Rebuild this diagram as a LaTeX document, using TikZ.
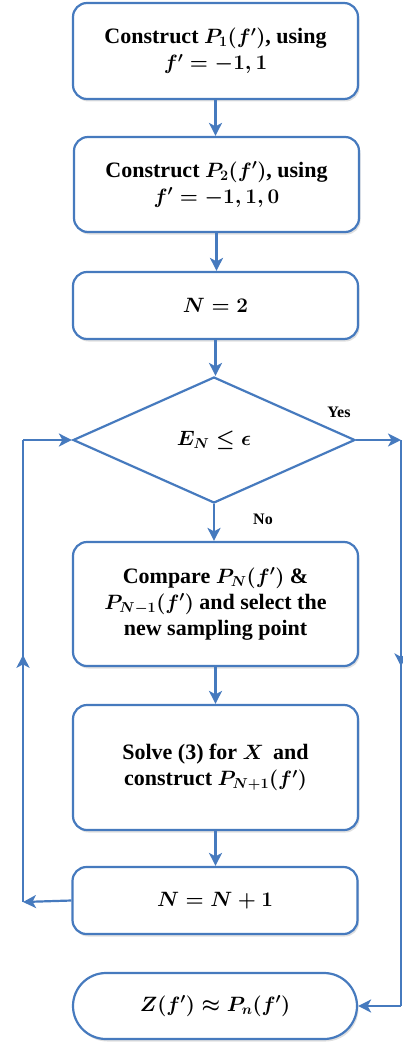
\documentclass[tikz,border=0pt]{standalone}
\usepackage{fontspec}
\setmainfont{Liberation Serif}
\usetikzlibrary{shapes.geometric,shapes.misc,arrows.meta,decorations.markings,shadows}
\definecolor{fblue}{RGB}{70,122,190}
\begin{document}
\begin{tikzpicture}[x=1pt,y=1pt,
  every node/.style={font=\fontsize{22}{26}\selectfont\bfseries\boldmath, text=black},
  box/.style={draw=fblue, line width=2.2pt, fill=white, rounded corners=14pt, align=center,
    minimum width=285pt, inner sep=0pt,
    drop shadow={shadow xshift=1.5pt, shadow yshift=-2.5pt, opacity=0.35, fill=gray!70}},
  dec/.style={draw=fblue, line width=2.2pt, fill=white, diamond, inner sep=0pt,
    minimum width=282pt, minimum height=126pt, aspect=2.24},
  term/.style={draw=fblue, line width=2.2pt, fill=white, rounded rectangle, inner sep=0pt,
    minimum width=284pt, minimum height=66pt,
    drop shadow={shadow xshift=1.5pt, shadow yshift=-2.5pt, opacity=0.35, fill=gray!70}},
  conn/.style={draw=fblue, line width=2.2pt},
  arr/.style={conn, -{Stealth[length=13pt, width=13pt, inset=3.5pt]}},
  midup/.style={conn, postaction={decorate}, decoration={markings,
    mark=at position #1 with {\arrow{Stealth[length=13pt, width=13pt, inset=3.5pt]}}}},
  lbl/.style={font=\fontsize{16}{18}\selectfont\bfseries}
]
\useasboundingbox (0,-1046) rectangle (402,0);

\node[box, minimum height=96pt] (b1) at (215.5,-51) {Construct $P_1(f')$, using\\ $f'=-1,1$};
\node[box, minimum height=95pt] (b2) at (216.5,-184.5) {Construct $P_2(f')$, using\\ $f'=-1,1,0$};
\node[box, minimum height=67pt] (b3) at (215.5,-305.5) {$N=2$};
\node[dec] (d) at (214,-440) {$E_N\le \epsilon$};
\node[box, minimum height=124pt] (b4) at (215.5,-604) {Compare $P_N(f')$ \&\\ $P_{N-1}(f')$ and select the\\ new sampling point};
\node[box, minimum height=125pt] (b5) at (215.5,-767.5) {Solve (3) for $X$\, and\\ construct $P_{N+1}(f')$};
\node[box, minimum height=67pt] (b6) at (215,-900.5) {$N=N+1$};
\node[term] (t) at (215,-1006) {$Z(f')\approx P_n(f')$};

\coordinate (R1) at (401,-440);
\coordinate (R2) at (401,-1006);
\coordinate (L1) at (23,-902);
\coordinate (L2) at (23,-440);

\draw[arr] (b1.south) -- (b1.south |- b2.north);
\draw[arr] (b2.south) -- (b2.south |- b3.north);
\draw[arr] (b3.south) -- (b3.south |- d.north);
\draw[arr] (d.south) -- (d.south |- b4.north);
\draw[arr] (b4.south) -- (b4.south |- b5.north);
\draw[arr] (b5.south) -- (b5.south |- b6.north);

\draw[arr] (d.east) -- (R1);
\draw[midup=0.40] (R1) -- (R2);
\draw[arr] (R2) -- (t.east);

\draw[arr] (b6.west) -- (L1);
\draw[midup=0.535] (L1) -- (L2);
\draw[arr] (L2) -- (d.west);

\node[lbl] (yes) at (339,-412) {Yes};
\node[lbl] (no) at (263,-519) {No};
\end{tikzpicture}
\end{document}
